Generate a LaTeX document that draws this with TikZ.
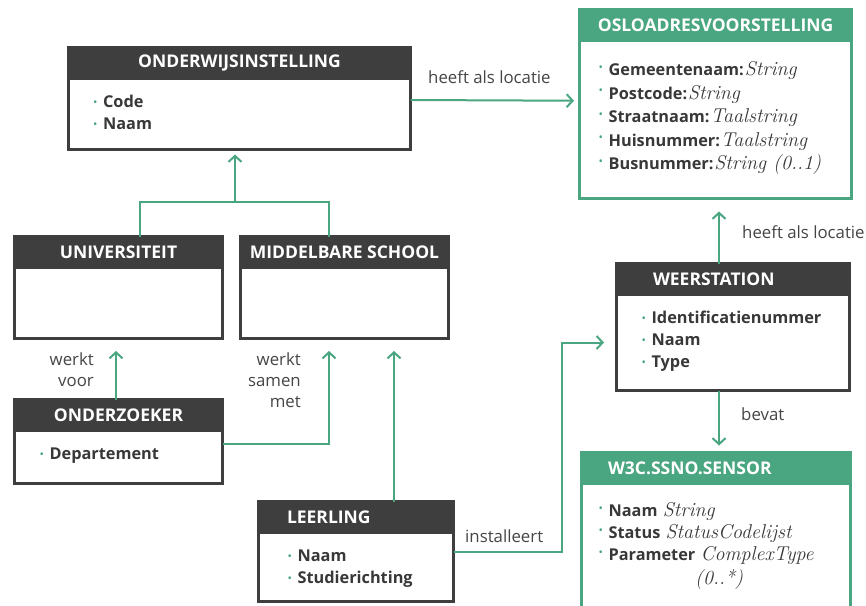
\documentclass[tikz,border=0pt]{standalone}
\usepackage{fontspec}
\setsansfont{Open Sans}
\usetikzlibrary{arrows.meta,calc}
\definecolor{accent}{HTML}{4AA680}
\definecolor{boxgray}{HTML}{3E3E3E}
\definecolor{txtgray}{HTML}{383838}
\definecolor{lblgray}{HTML}{454545}
\newcommand\bul{{\color{accent}\fontsize{9}{9}\selectfont\raisebox{0.45ex}{\textbullet}}\hspace{6pt}}
\newcommand\bulup{{\color{accent}\fontsize{9}{9}\selectfont\raisebox{1.1ex}{\textbullet}}\hspace{6pt}}
\newcommand\typ[1]{{\rmfamily\mdseries\itshape\fontsize{20}{20}\selectfont\hspace{1pt}#1}}
\tikzset{
  classhead/.style={draw=boxgray, fill=boxgray, line width=3pt, outer sep=0pt, inner sep=0pt,
    anchor=north west, minimum height=31pt, text=white, font=\sffamily\bfseries\fontsize{17.5}{20}\selectfont},
  classbody/.style={draw=boxgray, fill=white, line width=3pt, outer sep=0pt, inner sep=0pt, anchor=north west},
  greenhead/.style={classhead, draw=accent, fill=accent},
  greenbody/.style={classbody, draw=accent},
  attrs/.style={anchor=north west, inner sep=0pt, align=left, text=txtgray,
    font=\sffamily\bfseries\fontsize{16.3}{22}\selectfont},
  lbl/.style={inner sep=0pt, text=lblgray, font=\sffamily\fontsize{16.8}{21}\selectfont},
  link/.style={draw=accent, line width=2pt},
  arrow/.style={link, -{Straight Barb[length=6pt,width=13pt]}}
}
\begin{document}
\begin{tikzpicture}[x=1pt, y=-1pt]
  \fill[white] (0,0) rectangle (866,605);
  \useasboundingbox (0,0) rectangle (866,605);

  % classes
  \node[classhead, minimum width=342pt] (onderwijsHead) at (68.5,47.5) {ONDERWIJSINSTELLING};
  \node[classbody, minimum width=342pt, minimum height=71pt] (onderwijs) at (onderwijsHead.south west) {};
  \node[attrs] (onderwijsAttr) at (93.5,95) {\bul Code\\ \bul Naam};

  \node[classhead, minimum width=208pt] (univHead) at (14.5,236.5) {UNIVERSITEIT};
  \node[classbody, minimum width=208pt, minimum height=71pt] (univ) at (univHead.south west) {};

  \node[classhead, minimum width=208pt] (schoolHead) at (240.5,236.5) {MIDDELBARE SCHOOL};
  \node[classbody, minimum width=208pt, minimum height=71pt] (school) at (schoolHead.south west) {};

  \node[classhead, minimum width=208pt] (onderzoekerHead) at (14.5,399.5) {ONDERZOEKER};
  \node[classbody, minimum width=208pt, minimum height=53pt] (onderzoeker) at (onderzoekerHead.south west) {};
  \node[attrs] (onderzoekerAttr) at (40,448) {\bul Departement};

  \node[classhead, minimum width=195pt, inner xsep=28.5pt, text width=138pt, align=left] (leerlingHead) at (258.5,501.5) {LEERLING};
  \node[classbody, minimum width=195pt, minimum height=69pt] (leerling) at (leerlingHead.south west) {};
  \node[attrs] (leerlingAttr) at (288,550) {\bul Naam\\ \bul Studierichting};

  \node[classhead, minimum width=233pt, inner xsep=36.5pt, text width=160pt, align=left] (weerstationHead) at (616.5,263.5) {WEERSTATION};
  \node[classbody, minimum width=233pt, minimum height=96pt] (weerstation) at (weerstationHead.south west) {};
  \node[attrs] (weerstationAttr) at (642,311) {\bul Identificatienummer\\ \bul Naam\\ \bul Type};

  \node[greenhead, minimum width=272pt] (osloHead) at (579.5,9.5) {OSLOADRESVOORSTELLING};
  \node[greenbody, minimum width=272pt, minimum height=158pt] (oslo) at (osloHead.south west) {};
  \node[attrs, font=\sffamily\bfseries\fontsize{16.3}{23.5}\selectfont] (osloAttr) at (599,61.5)
    {\bulup Gemeentenaam:\typ{String}\\ \bulup Postcode:\typ{String}\\ \bulup Straatnaam:\typ{Taalstring}\\
     \bulup Huisnummer:\typ{Taalstring}\\ \bulup Busnummer:\typ{String (0..1)}};

  \node[greenhead, minimum width=269pt, inner xsep=26.5pt, text width=216pt, align=left] (sensorHead) at (581.5,452.5) {W3C.SSNO.SENSOR};
  \node[greenbody, minimum width=269pt, minimum height=160pt] (sensor) at (sensorHead.south west) {};
  \node[attrs] (sensorAttr) at (599,502.5)
    {\bulup Naam \typ{String}\\ \bulup Status \typ{StatusCodelijst}\\ \bulup Parameter \typ{ComplexType}\\[2pt]
     \hspace*{95pt}\typ{(0..*)}};

  % labels
  \node[lbl, anchor=base west] (locatieLbl) at (428,83) {heeft als locatie};
  \node[lbl, anchor=north east, align=right] (voorLbl) at (94,353) {werkt\\voor};
  \node[lbl, anchor=north east, align=right] (samenLbl) at (301,353) {werkt\\samen\\met};
  \node[lbl, anchor=base west] (installeertLbl) at (465,542) {installeert};
  \node[lbl, anchor=base west] (locatie2Lbl) at (742,238) {heeft als locatie};
  \node[lbl, anchor=base west] (bevatLbl) at (741,420) {bevat};

  % connectors
  \coordinate (junction) at (235,202);
  \draw[link] ([xshift=21.5pt]univHead.north) |- (junction) -| ([xshift=-15.5pt]schoolHead.north);
  \draw[arrow, shorten >=5pt] (junction) -- (junction |- onderwijs.south);
  \draw[arrow, shorten >=5.5pt] ([yshift=14pt]onderwijs.east) -- ([yshift=18.75pt]oslo.west);
  \draw[arrow, shorten >=12.5pt] ([xshift=-2.5pt]onderzoekerHead.north) -- ([xshift=-2.5pt]univ.south);
  \draw[arrow, shorten >=12.5pt] ([yshift=12.75pt]onderzoeker.east) -| ([xshift=-15.5pt]school.south);
  \draw[arrow, shorten >=12.5pt] ([xshift=38pt]leerlingHead.north) -- ([xshift=49.5pt]school.south);
  \draw[arrow, shorten >=12.5pt] ([yshift=14.75pt]leerling.east) -- ++(108.5,0) |- (weerstation.west);
  \draw[arrow, shorten >=13pt] ($(weerstationHead.north)+(-14,0)$) -- ($(oslo.south)+(3.5,0)$);
  \draw[arrow, shorten >=7pt] ([xshift=-14pt]weerstation.south) -- ([xshift=3pt]sensorHead.north);
\end{tikzpicture}
\end{document}
